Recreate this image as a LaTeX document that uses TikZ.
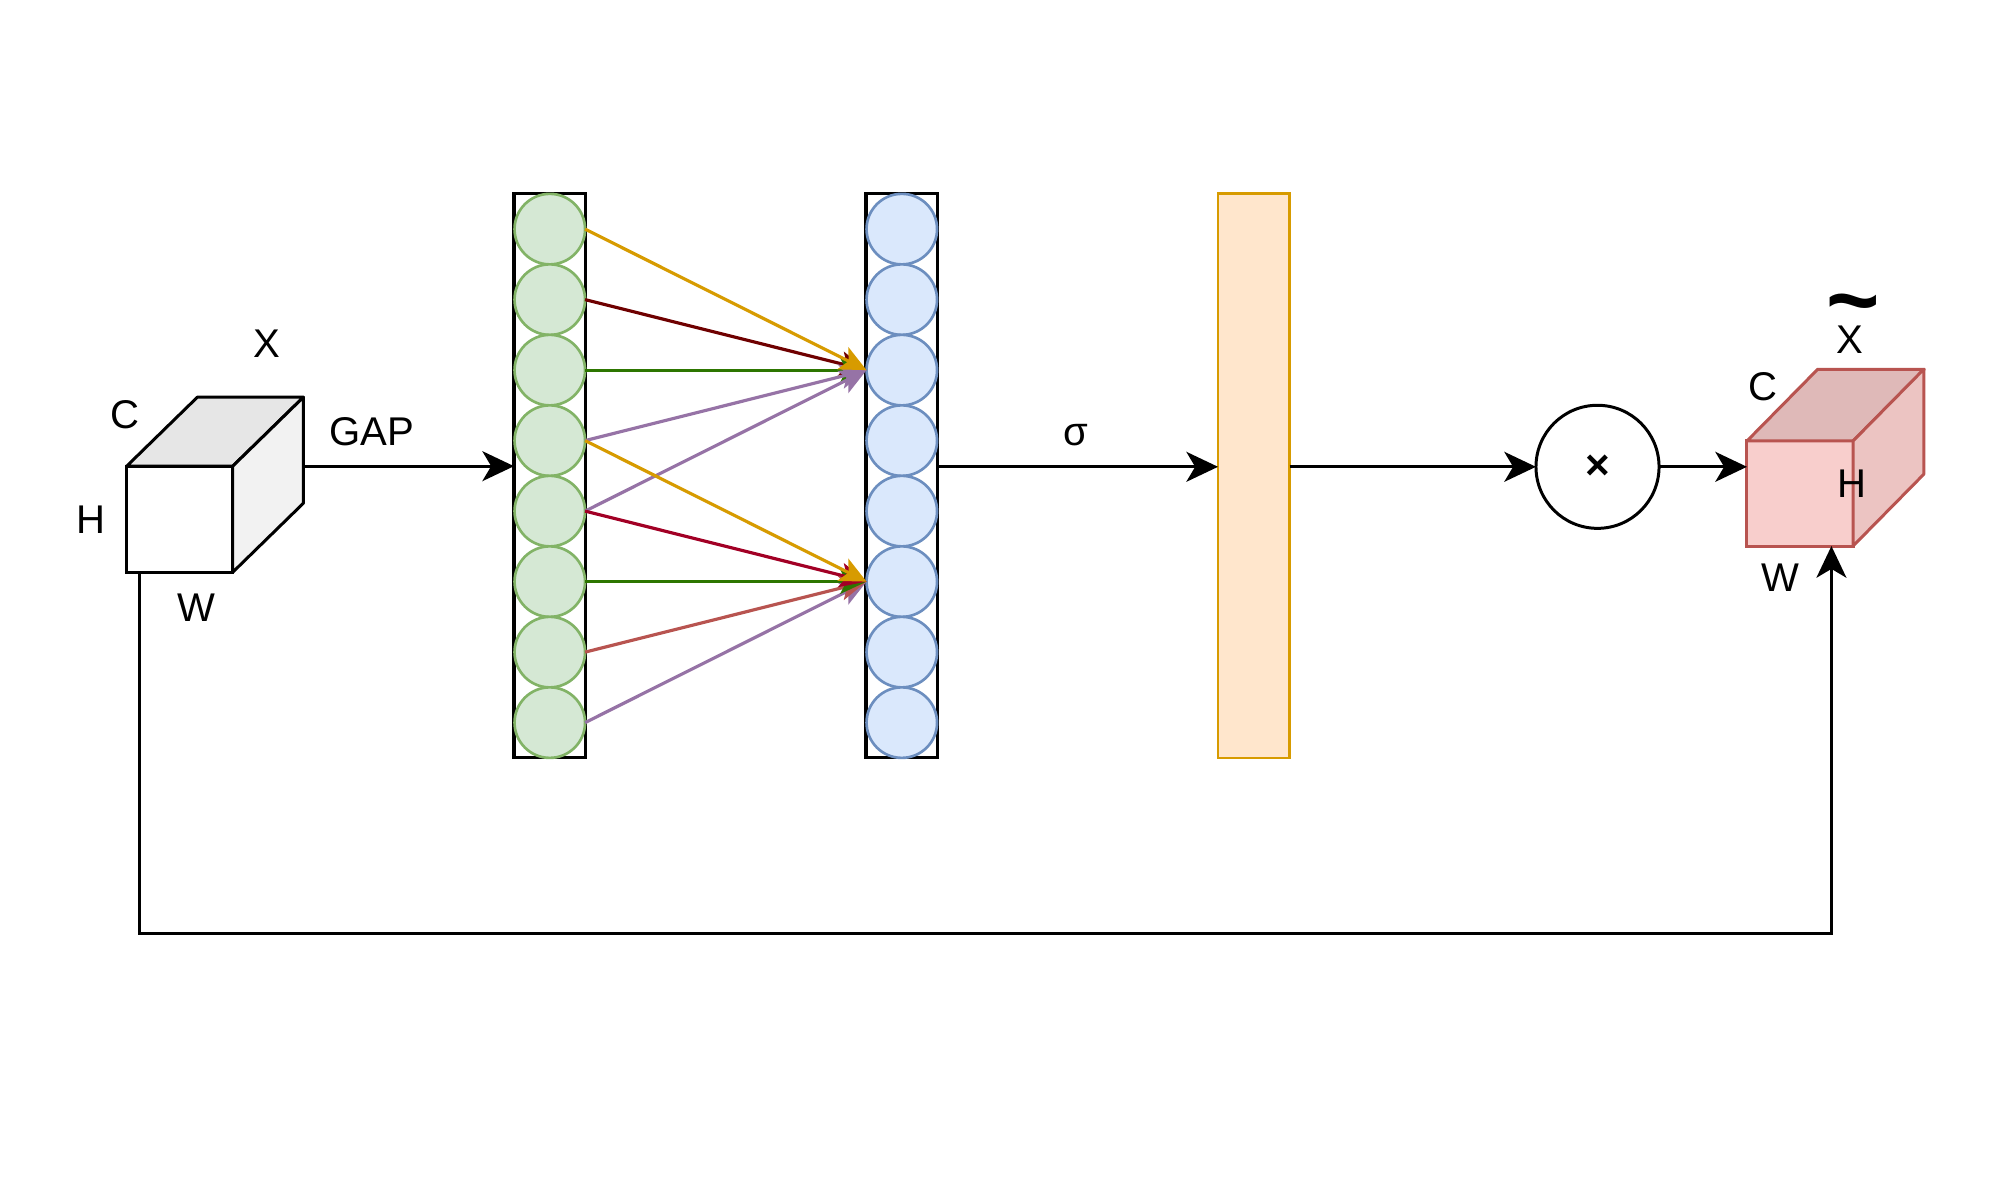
\documentclass[tikz,border=0pt]{standalone}
\usepackage{fontspec}
\setmainfont{Liberation Sans}
\usetikzlibrary{arrows.meta}
\definecolor{gfill}{HTML}{D5E8D4}
\definecolor{gline}{HTML}{82B366}
\definecolor{bfill}{HTML}{DAE8FC}
\definecolor{bline}{HTML}{6C8EBF}
\definecolor{ofill}{HTML}{FFE6CC}
\definecolor{oline}{HTML}{D79B00}
\definecolor{rfill}{HTML}{F8CECC}
\definecolor{rline}{HTML}{B85450}
\definecolor{rtop}{HTML}{DFB9B8}
\definecolor{rside}{HTML}{ECC4C2}
\definecolor{wtop}{HTML}{E6E6E6}
\definecolor{wside}{HTML}{F2F2F2}
\definecolor{dred}{HTML}{6F0000}
\definecolor{dgreen}{HTML}{2D7600}
\definecolor{lilac}{HTML}{9673A6}
\definecolor{crimson}{HTML}{A20025}
\newcommand{\greendot}[2]{\node[dot,draw=gline,fill=gfill] (#1) at (549.8,#2) {};}
\newcommand{\bluedot}[2]{\node[dot,draw=bline,fill=bfill] (#1) at (901.8,#2) {};}

\begin{document}
\begin{tikzpicture}[x=0.01cm,y=-0.01cm,
  dot/.style={circle,line width=0.75pt,minimum size=0.705cm,inner sep=0pt,outer sep=0pt},
  col/.style={draw=black,fill=white,line width=0.9pt,minimum width=0.715cm,minimum height=5.637cm,inner sep=0pt,outer sep=0pt},
  face/.style={line width=0.85pt,minimum width=1.06cm,minimum height=1.06cm,inner sep=0pt,outer sep=0pt},
  lab/.style={font=\fontsize{11.4}{13}\selectfont,inner sep=0pt},
  arr/.style={line width=0.85pt,-{Stealth[length=9pt,width=8.5pt,inset=2.5pt]}},
  link/.style={line width=0.9pt,-{Stealth[length=7.5pt,width=7pt,inset=1.8pt]}}]
\useasboundingbox (0,0) rectangle (2000,1181);
% input cube X
\node[face,draw,fill=white] (xcube) at (179.7,519.2) {};
\draw[line width=0.85pt,fill=wtop,line join=round] (xcube.north west) -- ++(70.7,-69) -- ++(106,0) -- (xcube.north east) -- cycle;
\draw[line width=0.85pt,fill=wside,line join=round] (xcube.north east) -- ++(70.7,-69) -- ++(0,106) -- (xcube.south east) -- cycle;
% columns
\node[col] (fc1) at (549.8,475.8) {};
\node[col] (fc2) at (901.8,475.8) {};
\node[col,draw=oline,fill=ofill,line width=0.75pt] (sig) at (1253.8,475.8) {};
\greendot{g1}{229.1}
\greendot{g2}{299.6}
\greendot{g3}{370.1}
\greendot{g4}{440.6}
\greendot{g5}{511.1}
\greendot{g6}{581.6}
\greendot{g7}{652.1}
\greendot{g8}{722.6}
\bluedot{b1}{229.1}
\bluedot{b2}{299.6}
\bluedot{b3}{370.1}
\bluedot{b4}{440.6}
\bluedot{b5}{511.1}
\bluedot{b6}{581.6}
\bluedot{b7}{652.1}
\bluedot{b8}{722.6}
% links
\draw[link,dred] (g2.east) -- (b3.west);
\draw[link,dgreen] (g3.east) -- (b3.west);
\draw[link,lilac] (g5.east) -- (b3.west);
\draw[link,lilac] (g4.east) -- (b3.west);
\draw[link,oline] (g1.east) -- (b3.west);
\draw[link,lilac] (g8.east) -- (b6.west);
\draw[link,rline] (g7.east) -- (b6.west);
\draw[link,dgreen] (g6.east) -- (b6.west);
\draw[link,crimson] (g5.east) -- (b6.west);
\draw[link,oline] (g4.east) -- (b6.west);
% product and output cube
\node[circle,draw,line width=0.85pt,minimum size=1.23cm,inner sep=0pt,outer sep=0pt,font=\fontsize{12}{12}\selectfont\bfseries] (mul) at (1597.5,466.8) {×};
\node[face,draw=rline,fill=rfill,minimum height=1.05cm] (ycube) at (1800,493.5) {};
\draw[line width=0.85pt,draw=rline,fill=rtop,line join=round] (ycube.north west) -- ++(70.7,-71.7) -- ++(106.6,0) -- (ycube.north east) -- cycle;
\draw[line width=0.85pt,draw=rline,fill=rside,line join=round] (ycube.north east) -- ++(70.7,-71.7) -- ++(0,105) -- (ycube.south east) -- cycle;
% arrows
\draw[arr] ([xshift=0.707cm]xcube.north east) -- (fc1.west |- xcube.north east);
\draw[arr] (fc2.east |- mul.west) -- (sig.west |- mul.west);
\draw[arr] (sig.east |- mul.west) -- (mul.west);
\draw[arr] (mul.east) -- (ycube.west |- mul.east);
\draw[arr] ([xshift=0.133cm]xcube.south west) -- ++(0,361) -| ([xshift=-0.216cm]ycube.south east);
% labels
\node[lab] (xname) at (266.7,343.3) {X};
\node[lab] (xc) at (125,415) {C};
\node[lab] (xh) at (90.7,520) {H};
\node[lab] (xw) at (196.7,608) {W};
\node[lab] (gap) at (371.7,431.7) {GAP};
\node[lab] (sigma) at (1076,435) {σ};
\node[lab] (yc) at (1763.3,386.7) {C};
\node[lab] (yh) at (1851.7,483.3) {H};
\node[lab] (yw) at (1780,578) {W};
\node[lab] (yname) at (1850,340) {X};
\node[font=\fontsize{26}{26}\selectfont\bfseries,inner sep=0pt] (ytilde) at (1853,313) {\textasciitilde};
\end{tikzpicture}
\end{document}
